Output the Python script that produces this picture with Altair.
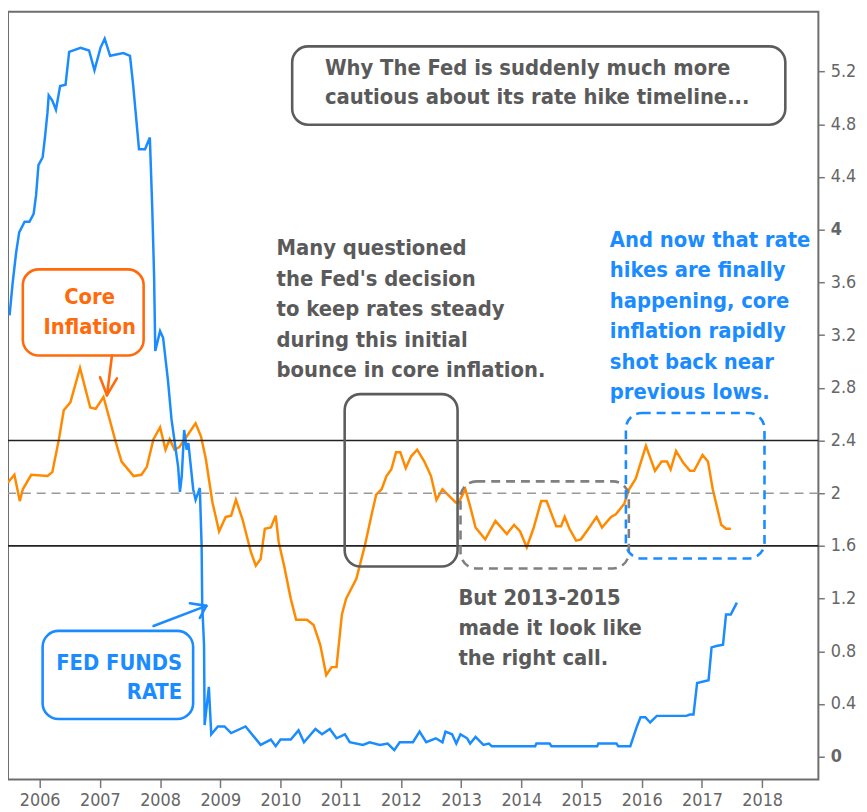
import altair as alt
import pandas as pd

# ---------------- data ----------------
core_t = [2005.47, 2005.58, 2005.67, 2005.72, 2005.86, 2006.13, 2006.21, 2006.32, 2006.40, 2006.51,
          2006.67, 2006.84, 2006.93, 2007.06, 2007.15, 2007.25, 2007.36, 2007.56, 2007.69, 2007.78,
          2007.89, 2008.00, 2008.09, 2008.16, 2008.24, 2008.32, 2008.41, 2008.59, 2008.68, 2008.76,
          2008.87, 2008.98, 2009.09, 2009.18, 2009.26, 2009.37, 2009.51, 2009.59, 2009.67, 2009.74,
          2009.84, 2009.92, 2009.97, 2010.06, 2010.17, 2010.26, 2010.44, 2010.55, 2010.66, 2010.76,
          2010.85, 2010.93, 2011.02, 2011.09, 2011.26, 2011.40, 2011.51, 2011.59, 2011.68, 2011.76,
          2011.84, 2011.92, 2011.99, 2012.08, 2012.17, 2012.27, 2012.39, 2012.50, 2012.59, 2012.69,
          2012.80, 2012.91, 2012.96, 2013.07, 2013.15, 2013.24, 2013.40, 2013.57, 2013.76, 2013.88,
          2013.98, 2014.09, 2014.20, 2014.33, 2014.42, 2014.58, 2014.66, 2014.72, 2014.80, 2014.91,
          2014.99, 2015.13, 2015.25, 2015.34, 2015.49, 2015.57, 2015.71, 2015.79, 2015.90, 2016.07,
          2016.22, 2016.33, 2016.42, 2016.48, 2016.57, 2016.69, 2016.80, 2016.87, 2017.01, 2017.10,
          2017.18, 2017.32, 2017.40, 2017.48]
core_v = [2.08, 2.14, 1.94, 2.03, 2.14, 2.13, 2.16, 2.41, 2.63, 2.69,
          2.95, 2.65, 2.64, 2.73, 2.58, 2.41, 2.24, 2.13, 2.14, 2.20,
          2.41, 2.50, 2.33, 2.41, 2.33, 2.35, 2.41, 2.53, 2.43, 2.26,
          1.93, 1.71, 1.82, 1.83, 1.95, 1.80, 1.55, 1.45, 1.50, 1.73,
          1.74, 1.83, 1.63, 1.45, 1.20, 1.04, 1.04, 1.00, 0.85, 0.62,
          0.68, 0.68, 1.08, 1.20, 1.35, 1.60, 1.83, 1.99, 2.03, 2.13,
          2.18, 2.31, 2.31, 2.19, 2.28, 2.33, 2.24, 2.13, 1.95, 2.03,
          1.98, 1.93, 1.93, 2.03, 1.90, 1.74, 1.65, 1.79, 1.69, 1.76,
          1.71, 1.59, 1.73, 1.94, 1.94, 1.75, 1.75, 1.82, 1.73, 1.64,
          1.65, 1.74, 1.82, 1.74, 1.82, 1.84, 1.92, 2.03, 2.11, 2.36,
          2.17, 2.24, 2.24, 2.18, 2.32, 2.23, 2.17, 2.17, 2.29, 2.24,
          2.03, 1.76, 1.73, 1.73]

ffr_t = [2005.50, 2005.55, 2005.61, 2005.66, 2005.75, 2005.83, 2005.90, 2005.94, 2005.98, 2006.05,
         2006.09, 2006.13, 2006.15, 2006.21, 2006.27, 2006.34, 2006.43, 2006.49, 2006.68, 2006.82,
         2006.91, 2007.01, 2007.08, 2007.17, 2007.39, 2007.50, 2007.55, 2007.61, 2007.65, 2007.75,
         2007.83, 2007.87, 2007.90, 2007.92, 2008.00, 2008.05, 2008.13, 2008.19, 2008.30, 2008.33,
         2008.36, 2008.40, 2008.44, 2008.47, 2008.55, 2008.59, 2008.66, 2008.69, 2008.70, 2008.73,
         2008.74, 2008.81, 2008.85, 2008.96, 2009.07, 2009.18, 2009.42, 2009.67, 2009.84, 2009.92,
         2010.00, 2010.17, 2010.30, 2010.39, 2010.58, 2010.69, 2010.82, 2010.93, 2011.07, 2011.15,
         2011.37, 2011.48, 2011.65, 2011.78, 2011.89, 2011.98, 2012.20, 2012.31, 2012.42, 2012.58,
         2012.69, 2012.74, 2012.85, 2012.92, 2012.99, 2013.10, 2013.15, 2013.24, 2013.37, 2013.46,
         2013.51, 2014.23, 2014.25, 2014.47, 2014.50, 2015.26, 2015.28, 2015.58, 2015.61, 2015.81,
         2015.92, 2015.98, 2016.06, 2016.14, 2016.25, 2016.74, 2016.80, 2016.86, 2016.92, 2017.11,
         2017.16, 2017.24, 2017.35, 2017.40, 2017.48, 2017.58]
ffr_v = [3.35, 3.59, 3.83, 3.98, 4.06, 4.06, 4.12, 4.26, 4.49, 4.55,
         4.71, 4.89, 5.02, 4.98, 4.91, 5.09, 5.10, 5.35, 5.38, 5.36,
         5.21, 5.38, 5.45, 5.32, 5.34, 5.32, 5.11, 4.81, 4.61, 4.61,
         4.70, 4.16, 3.66, 3.08, 3.23, 3.18, 2.86, 2.56, 2.20, 2.01,
         2.13, 2.48, 2.33, 2.38, 2.03, 1.95, 2.04, 1.60, 1.15, 0.85,
         0.24, 0.53, 0.17, 0.23, 0.23, 0.18, 0.23, 0.09, 0.13, 0.08,
         0.13, 0.13, 0.20, 0.11, 0.21, 0.17, 0.21, 0.14, 0.17, 0.11,
         0.09, 0.11, 0.09, 0.10, 0.05, 0.11, 0.11, 0.19, 0.11, 0.14,
         0.11, 0.19, 0.17, 0.10, 0.17, 0.14, 0.10, 0.15, 0.09, 0.10,
         0.08, 0.08, 0.10, 0.10, 0.08, 0.08, 0.10, 0.10, 0.08, 0.08,
         0.23, 0.30, 0.30, 0.26, 0.31, 0.31, 0.32, 0.32, 0.56, 0.58,
         0.83, 0.84, 0.85, 1.08, 1.08, 1.17]

years = list(range(2006, 2019))
y_ticks = [0, 0.4, 0.8, 1.2, 1.6, 2, 2.4, 2.8, 3.2, 3.6, 4, 4.4, 4.8, 5.2]
ref_levels = [2.4, 1.6]
target_level = [2.0]

# ---------------- styling ----------------
FONT = "DejaVu Sans Condensed, DejaVu Sans, sans-serif"
ORANGE_LINE = "#ff8a00"
ORANGE_TXT = "#ff6a0d"
BLUE = "#1a8cff"
GRAY_TXT = "#5a5a5a"
XD = [2005.474, 2018.934]
YD = [-0.173, 5.654]
xs = alt.Scale(domain=XD, nice=False, zero=False)
ys = alt.Scale(domain=YD, nice=False, zero=False)

AX_X = alt.Axis(values=years, format="d", orient="bottom", domain=False, grid=False, title=None,
                tickSize=8, tickColor="#777", tickWidth=1.5, labelFont=FONT, labelFontSize=18,
                labelColor="#666", labelPadding=4, labelFlush=False)
AX_Y = alt.Axis(values=y_ticks, format="~g", orient="right", domain=False, grid=False, title=None,
                tickSize=6, tickColor="#777", tickWidth=1.5, labelFont=FONT, labelFontSize=18,
                labelColor="#666", labelPadding=6, labelFlush=False,
                labelFontWeight={"condition": {"test": "datum.value == 0 || datum.value == 4",
                                               "value": "bold"}, "value": "normal"})


def X(f):
    return alt.X(f, scale=xs, axis=AX_X, title=None)


def Y(f):
    return alt.Y(f, scale=ys, axis=AX_Y, title=None)


series = pd.concat([
    pd.DataFrame({"t": core_t, "v": core_v, "s": "Core Inflation"}),
    pd.DataFrame({"t": ffr_t, "v": ffr_v, "s": "Fed Funds Rate"}),
])

lines = alt.Chart(series).mark_line(strokeWidth=2.5, interpolate="linear").encode(
    x=X("t:Q"), y=Y("v:Q"),
    color=alt.Color("s:N", scale=alt.Scale(domain=["Core Inflation", "Fed Funds Rate"],
                                           range=[ORANGE_LINE, BLUE]), legend=None),
    detail="s:N",
)

solid_rules = alt.Chart(pd.DataFrame({"lvl": ref_levels})).mark_rule(
    color="#222", strokeWidth=1.6).encode(y=Y("lvl:Q"))
dash_rule = alt.Chart(pd.DataFrame({"lvl": target_level})).mark_rule(
    color="#999", strokeWidth=1.6, strokeDash=[9, 6]).encode(y=Y("lvl:Q"))


def box(df, color, dash=None):
    kw = dict(fillOpacity=0, stroke=color, strokeWidth=2.6, cornerRadius=16, filled=False)
    if dash:
        kw["strokeDash"] = dash
    return alt.Chart(df).mark_rect(**kw).encode(x=X("x1:Q"), x2="x2:Q", y=Y("y1:Q"), y2="y2:Q")


gray_boxes = box(pd.DataFrame({"x1": [2010.194, 2011.066], "x2": [2018.385, 2012.941],
                               "y1": [5.391, 2.752], "y2": [4.797, 1.444]}), "#5c5c5c")
gray_dash_box = box(pd.DataFrame({"x1": [2012.990], "x2": [2015.786], "y1": [2.090], "y2": [1.429]}),
                    "#808080", [9, 6])
blue_dash_box = box(pd.DataFrame({"x1": [2015.737], "x2": [2018.039], "y1": [2.609], "y2": [1.504]}),
                    BLUE, [9, 6])
core_box = box(pd.DataFrame({"x1": [2005.720], "x2": [2007.727], "y1": [3.699], "y2": [3.045]}), ORANGE_TXT)
ffr_box = box(pd.DataFrame({"x1": [2006.049], "x2": [2008.549], "y1": [0.955], "y2": [0.286]}), BLUE)


def segs(df, color):
    return alt.Chart(df).mark_rule(color=color, strokeWidth=2.6, strokeCap="round").encode(
        x=X("xa:Q"), x2="xb:Q", y=Y("ya:Q"), y2="yb:Q")


core_arrow = segs(pd.DataFrame({"xa": [2007.201, 2007.118, 2007.118], "xb": [2007.118, 2007.003, 2007.283],
                                "ya": [3.045, 2.744, 2.744], "yb": [2.744, 2.880, 2.872]}), ORANGE_TXT)
ffr_arrow = segs(pd.DataFrame({"xa": [2007.891, 2008.768, 2008.768], "xb": [2008.768, 2008.495, 2008.660],
                               "ya": [0.992, 1.145, 1.145], "yb": [1.145, 1.165, 1.053]}), BLUE)


def label(txt, x, y, color, align="left", size=22, lh=30.5):
    return alt.Chart(pd.DataFrame({"x": [x], "y": [y], "txt": [txt]})).mark_text(
        font=FONT, fontSize=size, fontWeight="bold", color=color, align=align,
        baseline="alphabetic", lineBreak="\n", lineHeight=lh).encode(
        x=X("x:Q"), y=Y("y:Q"), text="txt:N")


t_title = label("Why The Fed is suddenly much more\ncautious about its rate hike timeline...",
                2010.738, 5.173, GRAY_TXT, lh=29)
t_many = label("Many questioned\nthe Fed's decision\nto keep rates steady\nduring this initial\nbounce in core inflation.",
               2009.935, 3.805, GRAY_TXT, lh=30.75)
t_but = label("But 2013-2015\nmade it look like\nthe right call.", 2012.955, 1.150, GRAY_TXT, lh=30)
t_blue = label("And now that rate\nhikes are finally\nhappening, core\ninflation rapidly\nshot back near\nprevious lows.",
               2015.470, 3.872, BLUE, lh=30.8)
t_core = label("Core\nInflation", 2006.830, 3.436, ORANGE_TXT, align="center", lh=30)
t_ffr = label("FED FUNDS\nRATE", 2008.366, 0.662, BLUE, align="right", lh=30)

chart = alt.layer(
    lines, solid_rules, dash_rule,
    gray_boxes, gray_dash_box, blue_dash_box, core_box, ffr_box,
    core_arrow, ffr_arrow,
    t_title, t_many, t_but, t_blue, t_core, t_ffr,
).properties(
    width=818, height=775,
    autosize=alt.AutoSizeParams(type="none"),
    padding={"left": 0, "top": 0, "right": 41, "bottom": 29},
).configure(background="white").configure_view(stroke="#6e6e6e", strokeWidth=2)

chart.save("out.html", embed_options={"renderer": "svg", "actions": False})
